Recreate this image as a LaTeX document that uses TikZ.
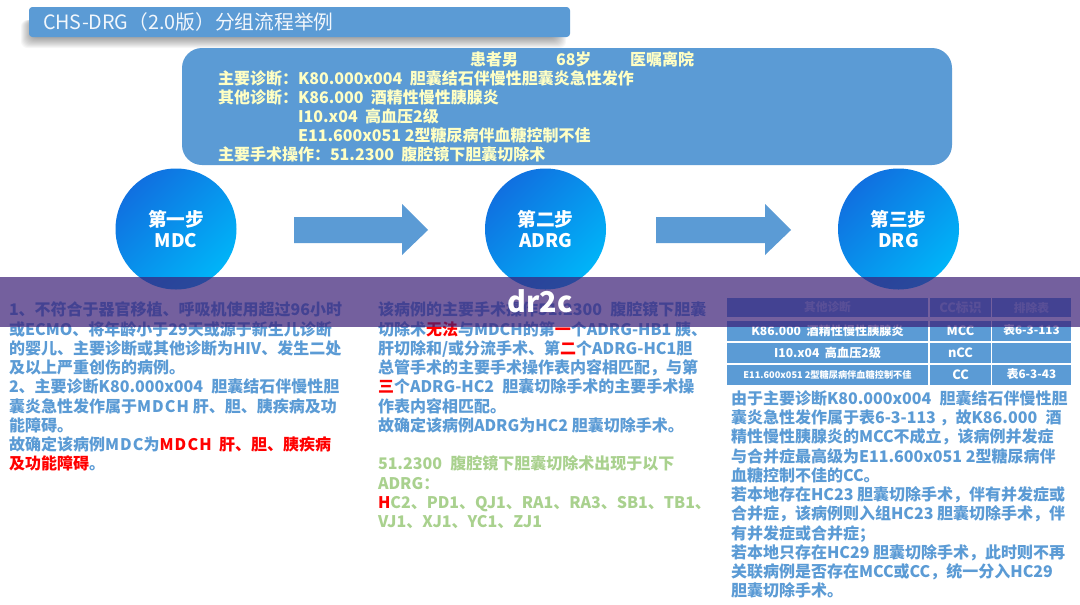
\documentclass[tikz,border=0pt]{standalone}
\usepackage{fontspec}
\setmainfont{Noto Sans CJK SC}
\usetikzlibrary{shapes.arrows}
\definecolor{mainblue}{HTML}{5B9BD5}
\definecolor{paleyel}{HTML}{FFFFC4}
\definecolor{leaf}{HTML}{A9D18E}
\definecolor{veil}{HTML}{3A1D76}
\definecolor{circA}{HTML}{1070E0}
\definecolor{circB}{HTML}{00B4F8}
\newcommand{\rd}[1]{\textcolor{red}{#1}}
\newcommand{\lat}[1]{{\addfontfeatures{LetterSpace=7}#1}}
\newcommand{\gp}{\hspace*{6.2pt}}
\tikzset{
 x=0.75pt,y=-0.75pt,
 every node/.style={inner sep=0pt,outer sep=0pt},
 bodytext/.style={anchor=north west,align=left,text=mainblue,font=\fontsize{12}{14.44}\selectfont\bfseries},
 pattext/.style={anchor=north west,align=left,text=paleyel,font=\fontsize{12}{14.25}\selectfont\bfseries},
 pathead/.style={anchor=base west,text=paleyel,font=\fontsize{12}{14}\selectfont\bfseries},
 stepcircle/.style={circle,minimum size=90.75pt,left color=circA,right color=circB,shading angle=45,text=white,align=center,font=\fontsize{14}{15.6}\selectfont\bfseries},
 blockarrow/.style={fill=mainblue,draw=none},
 cell/.style={fill=mainblue,text=white,align=center,font=\fontsize{8.8}{11}\selectfont\bfseries},
 headcell/.style={cell,text=white!45!mainblue,minimum height=14.25pt},
 wideA/.style={minimum width=150.75pt},
 wideB/.style={minimum width=45.75pt,font=\fontsize{9.6}{11}\selectfont\bfseries},
 wideC/.style={minimum width=59.25pt},
}
\begin{document}
\begin{tikzpicture}
\useasboundingbox (0,0) rectangle (1080,604);
\fill[white] (0,0) rectangle (1080,604);
% title shadow
\foreach \g in {10,9,8,7,6,5,4,3,2,1,0}{
 \fill[black,opacity=0.035,rounded corners=5pt] (31-\g,20) rectangle (556+\g,38+\g);
}
\node[fill=mainblue,rounded corners=2.5pt,minimum width=405.75pt,minimum height=22.5pt,anchor=north west] (titlebar) at (29,7) {};
\node[anchor=west,text=white!92!mainblue,font=\fontsize{14.8}{18}\selectfont] (titletext) at (43,22) {CHS-DRG（2.0版）分组流程举例};
% patient box
\node[fill=mainblue,rounded corners=15pt,minimum width=577.5pt,minimum height=87.75pt,anchor=north west] (patbox) at (182,48) {};
\node[pathead] (pa) at (470,65) {患者男};
\node[pathead] (pb) at (556,65) {68岁};
\node[pathead] (pc) at (630,65) {医嘱离院};
\node[pattext] (patlines) at (218,71) {\makebox[60pt][l]{主要诊断：}K80.000x004~~胆囊结石伴慢性胆囊炎急性发作\\
\makebox[60pt][l]{其他诊断：}K86.000~~酒精性慢性胰腺炎\\
\makebox[60pt][l]{}I10.x04~~高血压2级\\
\makebox[60pt][l]{}E11.600x051 2型糖尿病伴血糖控制不佳\\
主要手术操作：51.2300~~腹腔镜下胆囊切除术};
% steps
\node[stepcircle] (s1) at (176,229) {第一步\\MDC};
\node[stepcircle] (s2) at (545.5,229) {第二步\\ADRG};
\node[stepcircle] (s3) at (898.5,229) {第三步\\DRG};
% block arrows
\fill[blockarrow] (294,217) -- (402,217) -- (402,204) -- (428,230) -- (402,255) -- (402,243) -- (294,243) -- cycle;
\fill[blockarrow] (656,217) -- (765,217) -- (765,204) -- (791,230) -- (765,255) -- (765,243) -- (656,243) -- cycle;
% left text
\node[bodytext] (left) at (9,302) {1、不符合于器官移植、呼吸机使用超过96小时\\
或ECMO、将年龄小于29天或源于新生儿诊断\\
的婴儿、主要诊断或其他诊断为HIV、发生二处\\
及以上严重创伤的病例。\\
2、主要诊断K80.000x004\gp 胆囊结石伴慢性胆\\
囊炎急性发作属于\lat{MDCH} 肝、胆、胰疾病及功\\
能障碍。\\
故确定该病例\lat{MDC}为\rd{\lat{MDCH} ~肝、胆、胰疾病}\\
\rd{及功能障碍}。};
% middle text
\node[bodytext] (mid) at (378,302) {该病例的主要手术操作51.2300\gp 腹腔镜下胆囊\\
切除术\rd{无法}与MDCH的第\rd{一}个ADRG-HB1 胰、\\
肝切除和/或分流手术、第\rd{二}个ADRG-HC1胆\\
总管手术的主要手术操作表内容相匹配，与第\\
\rd{三}个ADRG-HC2\gp 胆囊切除手术的主要手术操\\
作表内容相匹配。\\
故确定该病例ADRG为HC2 胆囊切除手术。};
\node[bodytext,text=leaf] (green) at (378,456) {51.2300\gp 腹腔镜下胆囊切除术出现于以下\\
ADRG：\\
\rd{H}C2、PD1、QJ1、RA1、RA3、SB1、TB1、\\
VJ1、XJ1、YC1、ZJ1};
% table
\node[headcell,wideA] (h1) at (827.5,307.5) {其他诊断};
\node[headcell,wideB,minimum height=14.25pt] (h2) at (960.5,307.5) {CC标识};
\node[headcell,wideC] (h3) at (1031.5,307.5) {排除表};
\node[cell,wideA,minimum height=15pt,font=\fontsize{9.1}{11}\selectfont\bfseries] (a1) at (827.5,330.5) {K86.000~~酒精性慢性胰腺炎};
\node[cell,wideB,minimum height=15pt] (a2) at (960.5,330.5) {MCC};
\node[cell,wideC,minimum height=15pt] (a3) at (1031.5,330.5) {表6-3-113};
\node[cell,wideA,minimum height=15pt,font=\fontsize{9.1}{11}\selectfont\bfseries] (b1) at (827.5,352.5) {I10.x04~~高血压2级};
\node[cell,wideB,minimum height=15pt] (b2) at (960.5,352.5) {nCC};
\node[cell,wideC,minimum height=15pt] (b3) at (1031.5,352.5) {};
\node[cell,wideA,minimum height=15pt,font=\fontsize{6.9}{9}\selectfont\bfseries] (c1) at (827.5,374.5) {E11.600x051 2型糖尿病伴血糖控制不佳};
\node[cell,wideB,minimum height=15pt] (c2) at (960.5,374.5) {CC};
\node[cell,wideC,minimum height=15pt] (c3) at (1031.5,374.5) {表6-3-43};
% right text
\node[bodytext] (right) at (731,390.5) {由于主要诊断K80.000x004\gp 胆囊结石伴慢性胆\\
囊炎急性发作属于表6-3-113 ，故K86.000\gp 酒\\
精性慢性胰腺炎的MCC不成立，该病例并发症\\
与合并症最高级为E11.600x051 2型糖尿病伴\\
血糖控制不佳的CC。\\
若本地存在HC23 胆囊切除手术，伴有并发症或\\
合并症，该病例则入组HC23 胆囊切除手术，伴\\
有并发症或合并症；\\
若本地只存在HC29 胆囊切除手术，此时则不再\\
关联病例是否存在MCC或CC，统一分入HC29\\
胆囊切除手术。};
% banner
\fill[veil,opacity=0.7] (0,277) rectangle (1080,327);
\node[text=white,font=\fontsize{21.5}{24}\selectfont\bfseries] (mark) at (540,301) {dr2c};
\end{tikzpicture}
\end{document}
